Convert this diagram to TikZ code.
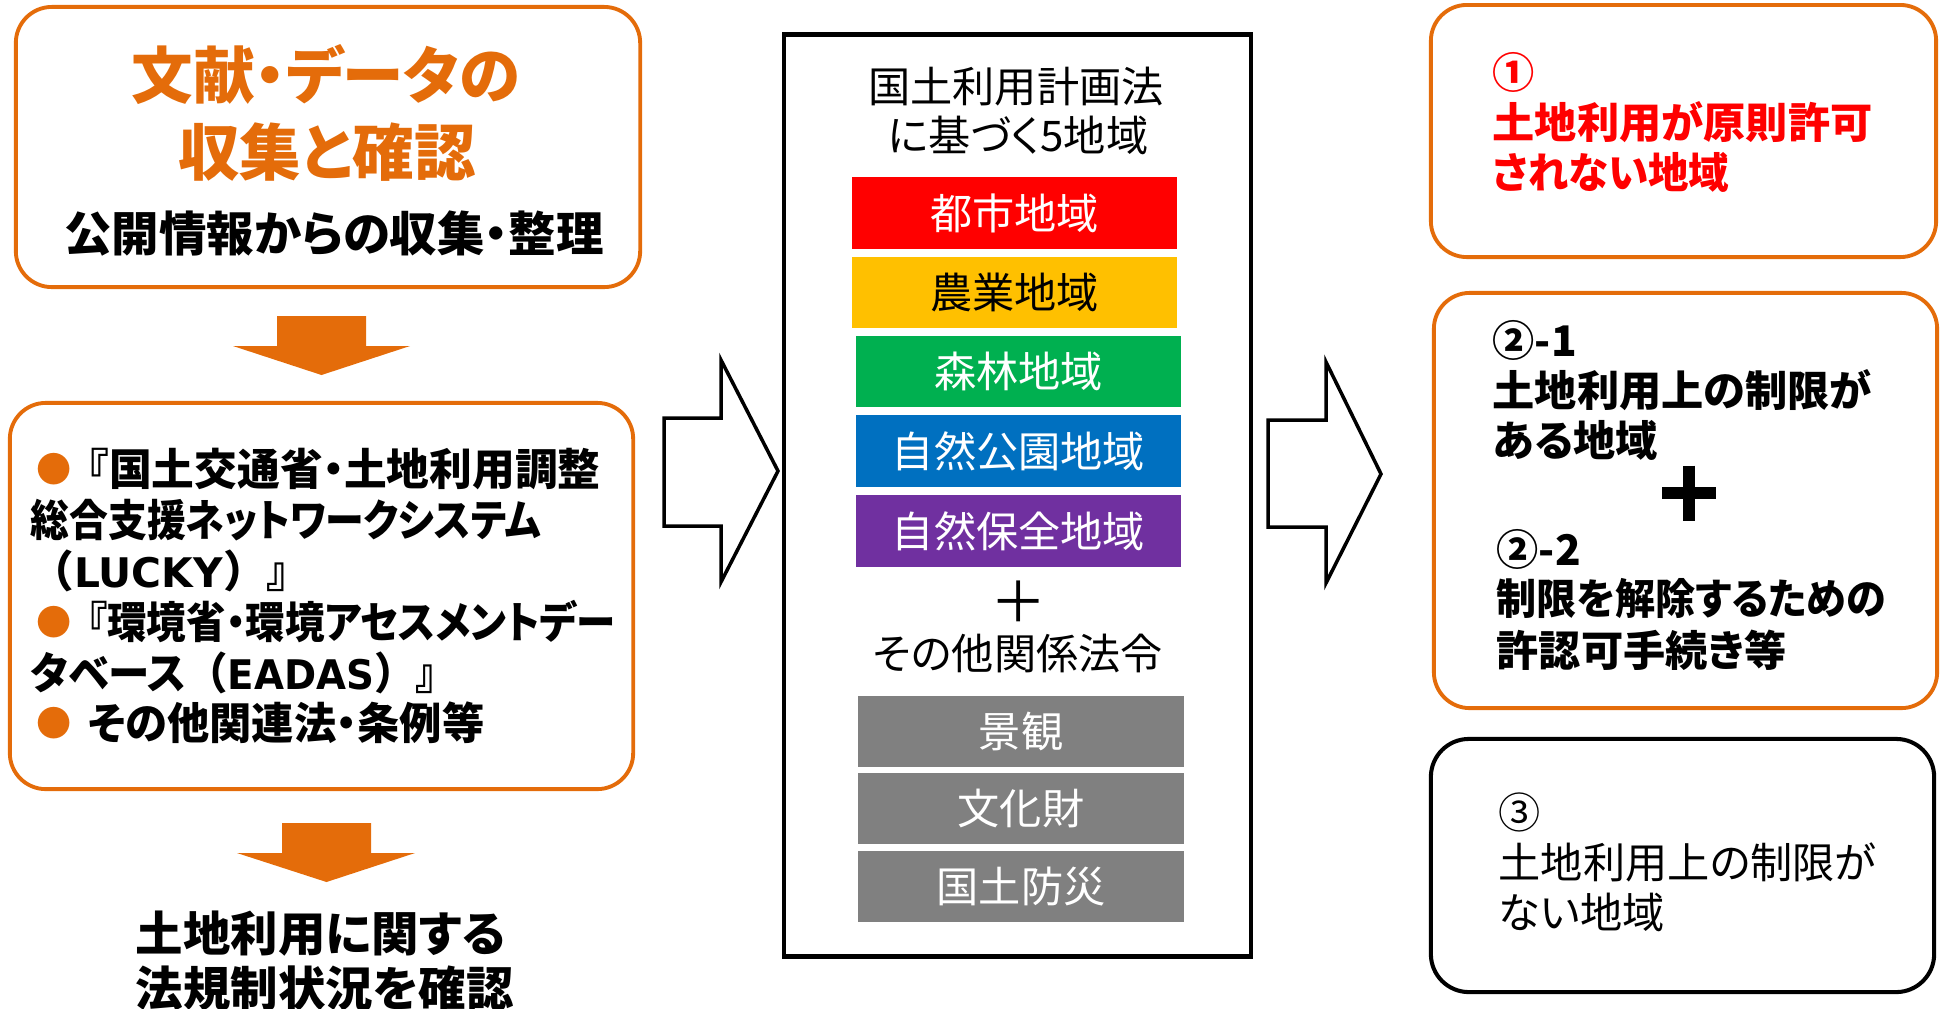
\documentclass[tikz,border=0pt]{standalone}
\usepackage{fontspec}
\setmainfont{Noto Sans CJK JP}[RawFeature={+palt}]
\newfontfamily\jpfw{Noto Sans CJK JP}
\newfontfamily\latw{DejaVu Sans}
\definecolor{orgc}{HTML}{E46C0A}
\definecolor{redc}{HTML}{FF0000}
\definecolor{yelc}{HTML}{FFC000}
\definecolor{grnc}{HTML}{00B050}
\definecolor{bluc}{HTML}{0070C0}
\definecolor{purc}{HTML}{7030A0}
\definecolor{gryc}{HTML}{808080}
\newcommand\fw[1]{{\jpfw #1}}
\newcommand\lw[1]{{\latw\fontsize{11.6pt}{12pt}\selectfont #1}}
\tikzset{
  fA/.style={font=\fontsize{12pt}{14pt}\selectfont, inner sep=0pt, text height=10.56pt, text depth=1.44pt},
  fL/.style={font=\fontsize{12.4pt}{14pt}\selectfont, inner sep=0pt, text height=10.9pt, text depth=1.5pt},
  fB/.style={font=\fontsize{13.5pt}{16pt}\selectfont, inner sep=0pt, text height=11.88pt, text depth=1.62pt},
  fC/.style={font=\fontsize{17.5pt}{20pt}\selectfont, inner sep=0pt, text height=15.4pt, text depth=2.1pt},
  fP/.style={font=\fontsize{16pt}{18pt}\selectfont, inner sep=0pt},
  bulnode/.style={font=\fontsize{10pt}{10pt}\selectfont, text=orgc, inner sep=0pt, anchor=west},
  ln/.style={anchor=west},
  obox/.style={draw=orgc, line width=1.1pt, rounded corners=0.36cm, inner sep=0pt},
  kbox/.style={draw=black, line width=1.15pt, rounded corners=0.38cm, inner sep=0pt},
  mbox/.style={draw=black, line width=1.3pt, inner sep=0pt},
  bar/.style={fA, minimum width=3.25cm, minimum height=0.71cm, text=white},
  garrow/.style={fill=orgc},
  barrow/.style={draw=black, fill=white, line width=1pt, line join=miter},
}
\begin{document}
\begin{tikzpicture}[x=0.01cm,y=-0.01cm]
\useasboundingbox (0,0) rectangle (1943,1008);
% ---------- left column ----------
\node[obox, minimum width=6.24cm, minimum height=2.80cm] (box1) at (328,147) {};
\node[fC, text=orgc] (t1) at (326,75) {\bfseries 文献・データの};
\node[fC, text=orgc] (t2) at (327,152) {\bfseries 収集と確認};
\node[fB] (t3) at (334,233) {\bfseries 公開情報からの収集・整理};

\fill[garrow] (277,316) -- (366,316) -- (366,346) -- (410,346) -- (321.5,375) -- (233,346) -- (277,346) -- cycle;

\node[obox, minimum width=6.23cm, minimum height=3.86cm] (box2) at (321.5,596) {};
\node[bulnode] (p1) at (36,469) {●};
\node[fL, ln] (l1) at (87,469) {\bfseries\scalebox{0.98}[1]{『国土交通省・土地利用調整}};
\node[fL, ln] (l2) at (30,520) {\bfseries\scalebox{0.89}[1]{総合支援ネットワークシステム}};
\node[fL, ln] (l3) at (30,571) {\bfseries\fw{（}\lw{LUCKY}\fw{）』}};
\node[bulnode] (p2) at (36,622) {●};
\node[fL, ln] (l4) at (87,622) {\bfseries\scalebox{0.905}[1]{『環境省・環境アセスメントデー}};
\node[fL, ln] (l5) at (30,673) {\bfseries\scalebox{0.95}[1]{タベース\fw{（}\lw{EADAS}\fw{）』}}};
\node[bulnode] (p3) at (36,723) {●};
\node[fL, ln] (l6) at (87,723) {\bfseries\scalebox{0.97}[1]{その他関連法・条例等}};

\fill[garrow] (282,823) -- (371,823) -- (371,853) -- (415,853) -- (326.5,882) -- (237,853) -- (282,853) -- cycle;

\node[fB, ln] (c1) at (135,933) {\bfseries 土地利用に関する};
\node[fB, ln] (c2) at (135,988) {\bfseries 法規制状況を確認};

% ---------- arrows ----------
\draw[barrow] (664,418) -- (721,418) -- (721,360) -- (778,471) -- (721,582) -- (721,526) -- (664,526) -- cycle;
\draw[barrow] (1268,420) -- (1326,420) -- (1326,362) -- (1381,474) -- (1326,583) -- (1326,527) -- (1268,527) -- cycle;

% ---------- middle column ----------
\node[mbox, minimum width=4.67cm, minimum height=9.21cm] (mid) at (1017.5,495.5) {};
\node[fA] (m1) at (1016,86) {国土利用計画法};
\node[fA] (m2) at (1018,135) {に基づく5地域};
\node[bar, fill=redc] (z1) at (1014.5,213) {都市地域};
\node[bar, fill=yelc, text=black] (z2) at (1014.5,292.5) {農業地域};
\node[bar, fill=grnc] (z3) at (1018.5,371.5) {森林地域};
\node[bar, fill=bluc] (z4) at (1018.5,451) {自然公園地域};
\node[bar, fill=purc] (z5) at (1018.5,531) {自然保全地域};
\node[fP] (mp) at (1019,602) {＋};
\node[fA] (m3) at (1018,653) {その他関係法令};
\node[bar, fill=gryc] (g1) at (1021,731) {景観};
\node[bar, fill=gryc] (g2) at (1021,808) {文化財};
\node[bar, fill=gryc] (g3) at (1021,886) {国土防災};

% ---------- right column ----------
\node[obox, minimum width=5.05cm, minimum height=2.52cm] (ra) at (1683.5,131) {};
\node[fA, ln, text=redc] (a1) at (1492,72) {\bfseries ①};
\node[fA, ln, text=redc] (a2) at (1492,122) {\bfseries 土地利用が原則許可};
\node[fA, ln, text=redc] (a3) at (1492,172) {\bfseries\scalebox{0.96}[1]{されない地域}};

\node[obox, minimum width=5.03cm, minimum height=4.15cm] (rb) at (1685.5,500.5) {};
\node[fA, ln] (b1) at (1492,340) {\bfseries ②-1};
\node[fA, ln] (b2) at (1492,390) {\bfseries 土地利用上の制限が};
\node[fA, ln] (b3) at (1492,440) {\bfseries ある地域};
\coordinate (pc) at (1689,493);
\draw[line width=3.2pt] ([xshift=-0.27cm]pc) -- ([xshift=0.27cm]pc);
\draw[line width=3.4pt] ([yshift=0.275cm]pc) -- ([yshift=-0.275cm]pc);
\node[fA, ln] (b4) at (1496,549) {\bfseries ②-2};
\node[fA, ln] (b5) at (1496,598) {\bfseries\scalebox{0.95}[1]{制限を解除するための}};
\node[fA, ln] (b6) at (1496,650) {\bfseries 許認可手続き等};

\node[kbox, minimum width=5.03cm, minimum height=2.53cm] (rc) at (1682.5,865.5) {};
\node[fA, ln] (c3) at (1498,812) {③};
\node[fA, ln] (c4) at (1498,862) {土地利用上の制限が};
\node[fA, ln] (c5) at (1498,912) {ない地域};
\end{tikzpicture}
\end{document}
